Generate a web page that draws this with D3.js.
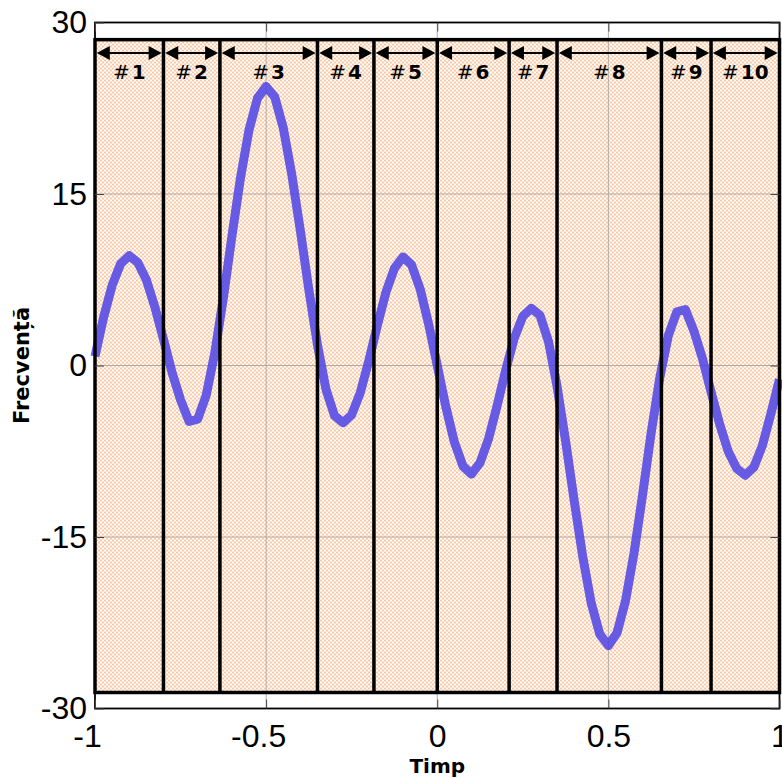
<!DOCTYPE html>
<html>
<head>
<meta charset="utf-8">
<script src="https://cdn.jsdelivr.net/npm/d3@7"></script>
<style>
  html, body { margin: 0; padding: 0; background: #ffffff; }
  svg { display: block; }
</style>
</head>
<body>
<svg id="chart" width="782" height="778"></svg>
<script>
// Signal samples: time (s) and frequency value
const timp = [
  -1.000, -0.975, -0.950, -0.925, -0.900, -0.875, -0.850, -0.825, -0.800, -0.775,
  -0.750, -0.725, -0.700, -0.675, -0.650, -0.625, -0.600, -0.575, -0.550, -0.525,
  -0.500, -0.475, -0.450, -0.425, -0.400, -0.375, -0.350, -0.325, -0.300, -0.275,
  -0.250, -0.225, -0.200, -0.175, -0.150, -0.125, -0.100, -0.075, -0.050, -0.025,
   0.000,  0.025,  0.050,  0.075,  0.100,  0.125,  0.150,  0.175,  0.200,  0.225,
   0.250,  0.275,  0.300,  0.325,  0.350,  0.375,  0.400,  0.425,  0.450,  0.475,
   0.500,  0.525,  0.550,  0.575,  0.600,  0.625,  0.650,  0.675,  0.700,  0.725,
   0.750,  0.775,  0.800,  0.825,  0.850,  0.875,  0.900,  0.925,  0.950,  0.975,
   1.000
];
const frecventa = [
   0.8,   4.2,   7.0,   8.9,   9.6,   9.0,   7.5,   5.1,   2.3,  -0.6,
  -3.0,  -4.9,  -4.7,  -2.6,   1.1,   5.9,  11.3,  16.4,  20.6,  23.4,
  24.4,  23.5,  20.8,  16.7,  11.8,   6.6,   1.8,  -2.1,  -4.4,  -5.0,
  -4.3,  -2.4,   0.4,   3.5,   6.4,   8.5,   9.5,   8.8,   6.7,   3.6,
   0.0,  -3.6,  -6.7,  -8.8,  -9.5,  -8.5,  -6.4,  -3.5,  -0.4,   2.4,
   4.3,   5.0,   4.4,   2.1,  -1.8,  -6.6, -11.8, -16.7, -20.8, -23.5,
 -24.5, -23.4, -20.6, -16.4, -11.3,  -5.9,  -1.1,   2.6,   4.7,   4.9,
   3.0,   0.6,  -2.3,  -5.1,  -7.5,  -9.0,  -9.6,  -8.9,  -7.0,  -4.2,
  -1.2
];

// Segment boundaries along the time axis and their labels
const limite = [-1, -0.8, -0.635, -0.35, -0.185, 0, 0.21, 0.35, 0.655, 0.8, 1];
const etichete = ["1", "2", "3", "4", "5", "6", "7", "8", "9", "10"];

// Axis ticks and band extent
const xTicks = [-1, -0.5, 0, 0.5, 1];
const yTicks = [-30, -15, 0, 15, 30];
const bandaSus = 28.5, bandaJos = -28.6;

const svg = d3.select("#chart");
const W = 782, H = 778;
const m = { left: 95, right: 2.5, top: 22.5, bottom: 69.5 };
const iw = W - m.left - m.right, ih = H - m.top - m.bottom;

const x = d3.scaleLinear().domain([-1, 1]).range([0, iw]);
const y = d3.scaleLinear().domain([-30, 30]).range([ih, 0]);

// cross-hatch fill
const defs = svg.append("defs");
const pat = defs.append("pattern")
  .attr("id", "hasura").attr("patternUnits", "userSpaceOnUse")
  .attr("width", 4).attr("height", 4);
pat.append("rect").attr("width", 4).attr("height", 4).attr("fill", "#ffffff");
pat.append("path").attr("d", "M0,0L4,4M4,0L0,4M-1,3L1,5M3,-1L5,1M-1,1L1,-1M3,5L5,3")
  .attr("stroke", "#f7c8a5").attr("stroke-width", 1.0).attr("fill", "none");

const g = svg.append("g").attr("transform", `translate(${m.left},${m.top})`);

// hatched band
g.append("rect")
  .attr("x", x(-1)).attr("y", y(bandaSus))
  .attr("width", x(1) - x(-1)).attr("height", y(bandaJos) - y(bandaSus))
  .attr("fill", "url(#hasura)");

// grid
const grid = g.append("g").attr("stroke", "#b3aca6").attr("stroke-width", 1);
grid.selectAll("line.gx").data(xTicks.filter(d => d > -1 && d < 1)).join("line")
  .attr("x1", d => x(d)).attr("x2", d => x(d)).attr("y1", 0).attr("y2", ih);
grid.selectAll("line.gy").data(yTicks.filter(d => d > -30 && d < 30)).join("line")
  .attr("y1", d => y(d)).attr("y2", d => y(d)).attr("x1", 0).attr("x2", iw);

// signal
const linie = d3.line().x((d, i) => x(timp[i])).y(d => y(d));
g.append("path").datum(frecventa)
  .attr("d", linie)
  .attr("fill", "none")
  .attr("stroke", "#4c42e6")
  .attr("stroke-opacity", 0.85)
  .attr("stroke-width", 9)
  .attr("stroke-linejoin", "round");

// band outline and segment dividers
g.append("rect")
  .attr("x", x(-1)).attr("y", y(bandaSus))
  .attr("width", x(1) - x(-1)).attr("height", y(bandaJos) - y(bandaSus))
  .attr("fill", "none").attr("stroke", "#000").attr("stroke-width", 3.5);
g.selectAll("line.div").data(limite.slice(1, -1)).join("line")
  .attr("x1", d => x(d)).attr("x2", d => x(d))
  .attr("y1", y(bandaSus)).attr("y2", y(bandaJos))
  .attr("stroke", "#000").attr("stroke-width", 3.5);

// double-headed arrows and segment labels
const ay = 30.5;
const seg = d3.range(etichete.length).map(i => ({ a: limite[i], b: limite[i + 1], t: etichete[i] }));
const arr = g.append("g");
seg.forEach(s => {
  const x0 = x(s.a) + 1.8, x1 = x(s.b) - 1.8, L = 13, hw = 7;
  arr.append("line").attr("x1", x0 + 4).attr("x2", x1 - 4).attr("y1", ay).attr("y2", ay)
    .attr("stroke", "#000").attr("stroke-width", 2);
  arr.append("path").attr("d", `M${x0},${ay}L${x0 + L},${ay - hw}L${x0 + L},${ay + hw}Z`).attr("fill", "#000");
  arr.append("path").attr("d", `M${x1},${ay}L${x1 - L},${ay - hw}L${x1 - L},${ay + hw}Z`).attr("fill", "#000");
  const t = arr.append("text")
    .attr("x", (x(s.a) + x(s.b)) / 2).attr("y", 56)
    .attr("text-anchor", "middle")
    .attr("font-family", "'DejaVu Sans', sans-serif")
    .attr("font-size", 20).attr("fill", "#000");
  t.append("tspan").attr("font-weight", "normal").text("#");
  t.append("tspan").attr("font-weight", "bold").attr("dx", 2).text(s.t);
});

// axes box
g.append("rect").attr("x", 0).attr("y", 0).attr("width", iw).attr("height", ih)
  .attr("fill", "none").attr("stroke", "#000").attr("stroke-width", 1.8);

const fmt = d => String(d);
const ax = g.append("g").attr("transform", `translate(0,${ih})`)
  .call(d3.axisBottom(x).tickValues(xTicks).tickFormat(fmt).tickSizeInner(-9).tickSizeOuter(0).tickPadding(16));
const ay2 = g.append("g")
  .call(d3.axisLeft(y).tickValues(yTicks).tickFormat(fmt).tickSizeInner(-9).tickSizeOuter(0).tickPadding(8));
const axTop = g.append("g")
  .call(d3.axisTop(x).tickValues(xTicks).tickFormat("").tickSizeInner(-9).tickSizeOuter(0));
const ayRight = g.append("g").attr("transform", `translate(${iw},0)`)
  .call(d3.axisRight(y).tickValues(yTicks).tickFormat("").tickSizeInner(-9).tickSizeOuter(0));

[ax, ay2, axTop, ayRight].forEach(a => {
  a.select(".domain").remove();
  a.selectAll(".tick line").attr("stroke", "#444").attr("stroke-width", 1);
  a.selectAll("text")
    .attr("font-family", "'Liberation Sans', Arial, sans-serif")
    .attr("font-size", 32).attr("fill", "#000");
});
ax.selectAll("text").attr("dx", d => d < 0 ? "-0.25em" : 0);

// axis titles
svg.append("text")
  .attr("x", m.left + x(0)).attr("y", 773)
  .attr("text-anchor", "middle")
  .attr("font-family", "'DejaVu Sans', sans-serif").attr("font-weight", "bold")
  .attr("font-size", 20).text("Timp");
svg.append("text")
  .attr("transform", `translate(29,${m.top + ih / 2}) rotate(-90)`)
  .attr("text-anchor", "middle")
  .attr("font-family", "'DejaVu Sans', sans-serif").attr("font-weight", "bold")
  .attr("font-size", 21).text("Frecvență");
</script>
</body>
</html>
